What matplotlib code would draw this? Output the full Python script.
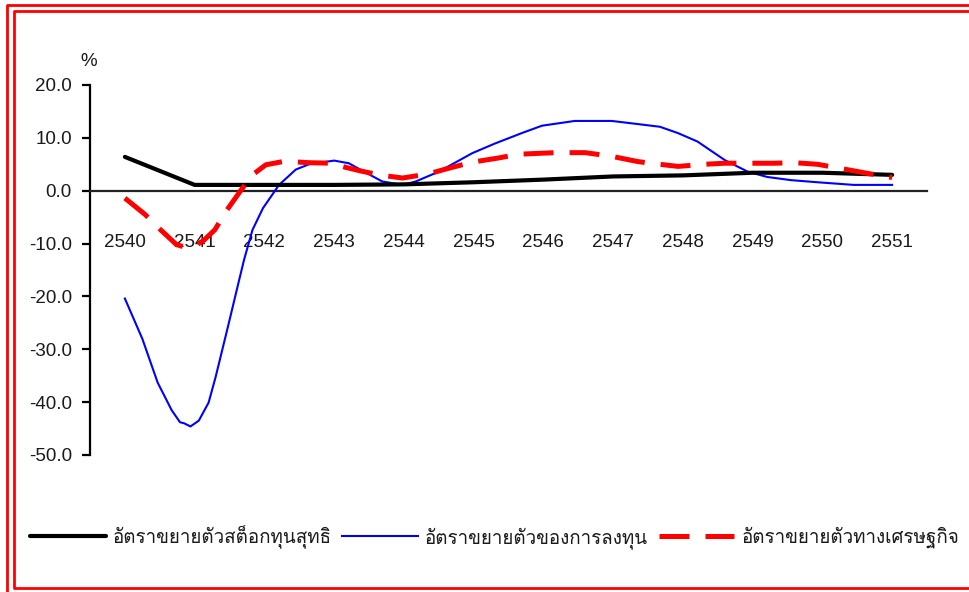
import numpy as np
import matplotlib
matplotlib.use("Agg")
import matplotlib.pyplot as plt
from matplotlib import font_manager
from matplotlib.ft2font import FT2Font
from matplotlib.lines import Line2D

# ---------------- data ----------------
years = ["2540", "2541", "2542", "2543", "2544", "2545",
         "2546", "2547", "2548", "2549", "2550", "2551"]

# net capital stock growth (annual)
capital_stock = [6.4, 1.1, 1.1, 1.1, 1.2, 1.6, 2.1, 2.7, 2.9, 3.4, 3.4, 3.0]

# investment growth: time (years after 2540) and value
investment_t = [0.0, 0.25, 0.47, 0.67, 0.79, 0.85, 0.94, 1.06, 1.2, 1.3,
                1.48, 1.64, 1.71, 1.83, 1.98, 2.21, 2.45, 2.64, 3.0, 3.21,
                3.43, 3.69, 3.98, 4.17, 4.5, 4.98, 5.3, 5.69, 5.98, 6.45,
                6.98, 7.36, 7.67, 7.93, 8.21, 8.6, 8.93, 9.21, 9.55, 9.93,
                10.45, 11.0]
investment = [-20.4, -28.0, -36.3, -41.5, -43.8, -44.0, -44.6, -43.5, -40.1, -35.3,
              -25.6, -16.8, -13.0, -7.4, -3.3, 1.1, 4.0, 5.0, 5.7, 5.2,
              3.6, 1.75, 1.1, 1.75, 3.6, 7.1, 8.9, 10.9, 12.3, 13.2,
              13.2, 12.6, 12.1, 10.9, 9.3, 5.8, 3.6, 2.6, 2.0, 1.6,
              1.1, 1.1]

# economic growth: time (years after 2540) and value
economic_t = [0.0, 0.29, 0.48, 0.74, 0.87, 1.0, 1.13, 1.29, 1.45, 1.67,
              1.83, 2.02, 2.26, 2.38, 2.64, 2.98, 3.17, 3.36, 3.64, 3.98,
              4.36, 4.6, 4.98, 5.36, 5.64, 6.17, 6.6, 6.98, 7.36, 7.6,
              7.93, 8.31, 8.6, 9.31, 9.6, 9.93, 10.31, 10.64, 11.0]
economic = [-1.4, -4.5, -7.0, -10.2, -10.7, -10.5, -9.4, -7.4, -3.9, 0.2,
            3.0, 4.9, 5.5, 5.5, 5.3, 5.2, 4.4, 3.8, 3.0, 2.4,
            3.2, 4.1, 5.4, 6.2, 6.9, 7.2, 7.2, 6.5, 5.5, 5.1,
            4.6, 5.0, 5.2, 5.2, 5.3, 5.0, 4.1, 3.3, 2.5]

series_names = ["อัตราขยายตัวสต็อกทุนสุทธิ",
                "อัตราขยายตัวของการลงทุน",
                "อัตราขยายตัวทางเศรษฐกิจ"]

y_ticks = [20, 10, 0, -10, -20, -30, -40, -50]

# ---------------- fonts ----------------
def find_thai_font():
    for fe in font_manager.fontManager.ttflist:
        try:
            cm = FT2Font(fe.fname).get_charmap()
            if 0x0E2D in cm and 0x0E31 in cm and 0x0E15 in cm:
                return fe.name
        except Exception:
            pass
    return None

thai = find_thai_font()
fam = ["Liberation Sans"] + ([thai] if thai else []) + ["DejaVu Sans"]
plt.rcParams["font.family"] = fam

TXT = "#1a1a1a"

# ---------------- figure ----------------
W, H = 970, 592
fig = plt.figure(figsize=(W / 100, H / 100), dpi=100)

def px(x0, y0, x1, y1):
    return [x0 / W, 1 - y1 / H, (x1 - x0) / W, (y1 - y0) / H]

ax = fig.add_axes(px(90, 85, 927, 455))

x_year = np.arange(len(years))

ax.plot(x_year, capital_stock, color="black", lw=3.0, solid_capstyle="round",
        solid_joinstyle="round", zorder=4)
ax.plot(investment_t, investment, color="#0000FF", lw=1.5, zorder=3,
        solid_joinstyle="round")
ax.plot(economic_t, economic, color="#FF0000", lw=3.6, dashes=(6, 3.2), zorder=5)

ax.set_xlim(-0.5, 11.5)
ax.set_ylim(-50, 20)

for s in ["top", "right"]:
    ax.spines[s].set_visible(False)
ax.spines["bottom"].set_position(("data", 0))
ax.spines["bottom"].set_linewidth(1.6)
ax.spines["bottom"].set_color("#222222")
ax.spines["left"].set_linewidth(1.6)

ax.set_yticks(y_ticks)
ax.set_yticklabels([f"{v:.1f}" for v in y_ticks])
ax.tick_params(axis="y", direction="out", length=6, width=1.6, pad=7,
               labelsize=13.5, labelcolor=TXT)
ax.set_xticks(x_year)
ax.set_xticklabels(years)
ax.tick_params(axis="x", length=0, pad=31, labelsize=13.5, labelcolor=TXT)

fig.text(89 / W, 1 - 62 / H, "%", ha="center", va="center", fontsize=13.5,
         color=TXT)

# legend
handles = [
    Line2D([], [], color="black", lw=3.0, solid_capstyle="round"),
    Line2D([], [], color="#0000FF", lw=1.5),
    Line2D([], [], color="#FF0000", lw=3.6, dashes=(6, 3.2)),
]
fig.legend(handles, series_names, loc="center left",
           bbox_to_anchor=(30 / W, 1 - 537 / H), ncol=3, frameon=False,
           fontsize=13.5, handlelength=4.05, handletextpad=0.37,
           columnspacing=0.55, borderaxespad=0, borderpad=0,
           labelcolor=TXT)

# double red frame
def frame_line(xs, ys, lw):
    fig.add_artist(Line2D([x / W for x in xs], [1 - y / H for y in ys],
                          color="#FF0000", lw=lw, transform=fig.transFigure))

frame_line([7.5, 7.5, 980], [600, 5, 5], 2.0)
frame_line([980, 13.5, 13.5, 980], [588, 588, 10.5, 10.5], 2.0)

fig.savefig("out.png", dpi=100)
